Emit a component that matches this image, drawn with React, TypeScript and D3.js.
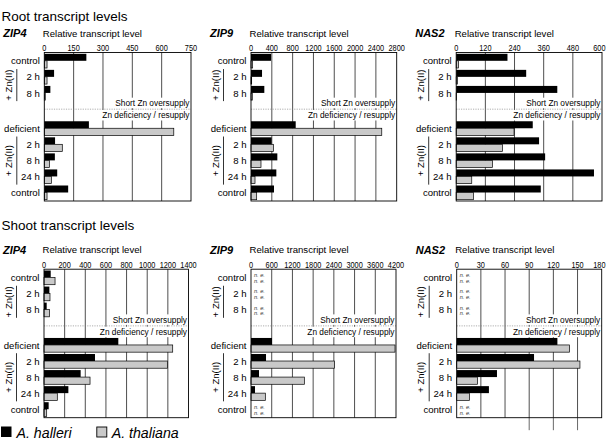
import React from "react";
import * as d3 from "d3";

// ---------- data ----------
const rowLabels = ["control", "2 h", "8 h", "deficient", "2 h", "8 h", "24 h", "control"];

const rootZIP4Ticks = [0, 150, 300, 450, 600, 750];
const rootZIP4Halleri = [215, 50, 31, 228, 55, 54, 66, 122];
const rootZIP4Thaliana = [14, 14, 5, 662, 92, 26, 36, 14];

const rootZIP9Ticks = [0, 400, 800, 1200, 1600, 2000, 2400, 2800];
const rootZIP9Halleri = [385, 212, 256, 859, 397, 506, 487, 442];
const rootZIP9Thaliana = [32, 13, 25, 2513, 430, 192, 77, 109];

const rootNAS2Ticks = [0, 120, 240, 360, 480, 600];
const rootNAS2Halleri = [211, 288, 416, 315, 341, 366, 567, 348];
const rootNAS2Thaliana = [10, 5, 1, 238, 190, 149, 64, 71];

const shootZIP4Ticks = [0, 200, 400, 600, 800, 1000, 1200, 1400];
const shootZIP4Halleri = [65, 52, 26, 720, 494, 355, 236, 45];
const shootZIP4Thaliana = [107, 58, 52, 1247, 1195, 446, 129, 26];

const shootZIP9Ticks = [0, 600, 1200, 1800, 2400, 3000, 3600, 4200];
const shootZIP9Halleri: (number | null)[] = [null, null, null, 608, 435, 232, 116, null];
const shootZIP9Thaliana: (number | null)[] = [null, null, null, 4171, 2414, 1545, 415, null];

const shootNAS2Ticks = [0, 30, 60, 90, 120, 150, 180];
const shootNAS2Halleri: (number | null)[] = [null, null, null, 125, 96, 50, 40, null];
const shootNAS2Thaliana: (number | null)[] = [null, null, null, 140, 153, 26, 16, null];
const shootNAS2ExtendedTicks = [90, 120, 150];

const sectionTitles = ["Root transcript levels", "Shoot transcript levels"];
const legendLabels = ["A. halleri", "A. thaliana"];

// ---------- style ----------
const FONT = "'Liberation Sans', Arial, Helvetica, sans-serif";
const GREY = "#c9c9c9";
const PANEL_H = 148.5;
const TICK_FS = 9.2;
const TICK_SX = 0.8;

type PanelProps = {
  gene: string;
  x0: number;
  y0: number;
  width: number;
  ticks: number[];
  halleri: (number | null)[];
  thaliana: (number | null)[];
  extended?: number[];
};

function Panel({ gene, x0, y0, width, ticks, halleri, thaliana, extended }: PanelProps) {
  const x = d3.scaleLinear().domain([0, ticks[ticks.length - 1]]).range([x0, x0 + width]);
  const slot = (i: number) => (i < 3 ? i : i + 1.2);
  const y = d3.scaleLinear().domain([0, 8.2]).range([y0 + 8.5, y0 + 140.2]);
  const x1 = x0 + width;
  const sepY = y(3);
  const fsNote = 8.3;
  const w1 = 8.95 * fsNote;
  const w2 = 10.5 * fsNote;

  const groups = [
    [1, 2],
    [4, 6],
  ];

  return (
    <g fontFamily={FONT}>
      <text x={x0 - 41} y={y0 - 15.5} fontSize={11} fontWeight="bold" fontStyle="italic">
        {gene}
      </text>
      <text x={x0 - 1.5} y={y0 - 15.8} fontSize={9.6}>
        Relative transcript level
      </text>
      {ticks.map((t) => {
        const half = (String(t).length * 0.556 * TICK_FS * TICK_SX) / 2;
        const cx = Math.min(x(t), 605.5 - half);
        return (
          <text
            key={"tl" + t}
            transform={`translate(${cx},${y0 - 1.6}) scale(${TICK_SX},1)`}
            fontSize={TICK_FS}
            textAnchor="middle"
          >
            {t}
          </text>
        );
      })}
      {ticks.slice(1, -1).map((t) => (
        <line key={"g" + t} x1={x(t)} x2={x(t)} y1={y0} y2={y0 + PANEL_H} stroke="#222" strokeWidth={0.8} />
      ))}
      {(extended || []).map((t) => (
        <line key={"e" + t} x1={x(t)} x2={x(t)} y1={y0 + PANEL_H} y2={y0 + PANEL_H + 12.5} stroke="#444" strokeWidth={0.8} />
      ))}
      <rect x={x1 - 2 - w1} y={sepY - 11.5} width={w1 + 1} height={10.5} fill="#fff" />
      <rect x={x1 - 2 - w2} y={sepY + 0.8} width={w2 + 1} height={10.5} fill="#fff" />
      <line x1={x0} x2={x1} y1={sepY} y2={sepY} stroke="#777" strokeWidth={0.6} strokeDasharray="1.2,1.2" />
      <text x={x1 - 1.5} y={sepY - 3} fontSize={fsNote} textAnchor="end">
        Short Zn oversupply
      </text>
      <text x={x1 - 1.5} y={sepY + 8.8} fontSize={fsNote} textAnchor="end">
        Zn deficiency / resupply
      </text>
      {rowLabels.map((lab, i) => {
        const c = y(slot(i));
        const h = halleri[i];
        const t = thaliana[i];
        return (
          <g key={"b" + i}>
            {h == null && t == null ? (
              <g fontSize={5.6} fontStyle="italic" fill="#333">
                <text x={x0 + 3} y={c - 0.3}>n. e.</text>
                <text x={x0 + 3} y={c + 5.2}>n. e.</text>
              </g>
            ) : (
              <>
                <rect x={x(0)} y={c - 7.2} width={x(h as number) - x(0)} height={7} fill="#000" />
                <rect
                  x={x(0)}
                  y={c - 0.2}
                  width={x(t as number) - x(0)}
                  height={7.2}
                  fill={GREY}
                  stroke="#000"
                  strokeWidth={0.7}
                />
              </>
            )}
            <text x={x0 - 4.5} y={c + 3.4} fontSize={9.6} textAnchor="end">
              {lab}
            </text>
          </g>
        );
      })}
      {groups.map(([a, b], k) => {
        const ya = y(slot(a)) - 8;
        const yb = y(slot(b)) + 8;
        const mid = (y(slot(a)) + y(slot(b))) / 2;
        return (
          <g key={"z" + k}>
            <line x1={x0 - 27.5} x2={x0 - 27.5} y1={ya} y2={yb} stroke="#000" strokeWidth={0.8} />
            <text
              transform={`translate(${x0 - 32.5},${mid}) rotate(-90)`}
              fontSize={9.6}
              textAnchor="middle"
            >
              + Zn(II)
            </text>
          </g>
        );
      })}
      <rect x={x0} y={y0} width={width} height={PANEL_H} fill="none" stroke="#000" strokeWidth={0.9} />
    </g>
  );
}

export default function App() {
  const topY = 52.5;
  const botY = 269.2;
  return (
    <svg
      width={606}
      height={440}
      viewBox="0 0 606 440"
      style={{ position: "absolute", left: 0, top: 0, background: "#fff" }}
    >
      <rect x={0} y={0} width={606} height={440} fill="#fff" />
      <text x={1.5} y={20.5} fontSize={13.5} fontFamily={FONT}>
        {sectionTitles[0]}
      </text>
      <text x={1.5} y={229.5} fontSize={13.5} fontFamily={FONT}>
        {sectionTitles[1]}
      </text>

      <Panel gene="ZIP4" x0={44.3} y0={topY} width={146.7} ticks={rootZIP4Ticks} halleri={rootZIP4Halleri} thaliana={rootZIP4Thaliana} />
      <Panel gene="ZIP9" x0={251} y0={topY} width={145.7} ticks={rootZIP9Ticks} halleri={rootZIP9Halleri} thaliana={rootZIP9Thaliana} />
      <Panel gene="NAS2" x0={456.2} y0={topY} width={145.8} ticks={rootNAS2Ticks} halleri={rootNAS2Halleri} thaliana={rootNAS2Thaliana} />

      <Panel gene="ZIP4" x0={44} y0={botY} width={144.5} ticks={shootZIP4Ticks} halleri={shootZIP4Halleri} thaliana={shootZIP4Thaliana} />
      <Panel gene="ZIP9" x0={251} y0={botY} width={145} ticks={shootZIP9Ticks} halleri={shootZIP9Halleri} thaliana={shootZIP9Thaliana} />
      <Panel gene="NAS2" x0={456.7} y0={botY} width={145} ticks={shootNAS2Ticks} halleri={shootNAS2Halleri} thaliana={shootNAS2Thaliana} extended={shootNAS2ExtendedTicks} />

      <g fontFamily={FONT}>
        <rect x={1} y={426.5} width={10.5} height={10.5} fill="#000" />
        <text x={16.5} y={437.5} fontSize={14.2} fontStyle="italic">
          {legendLabels[0]}
        </text>
        <rect x={96.8} y={427} width={10} height={10} fill={GREY} stroke="#000" strokeWidth={0.9} />
        <text x={111.7} y={437.5} fontSize={14.2} fontStyle="italic">
          {legendLabels[1]}
        </text>
      </g>
    </svg>
  );
}
